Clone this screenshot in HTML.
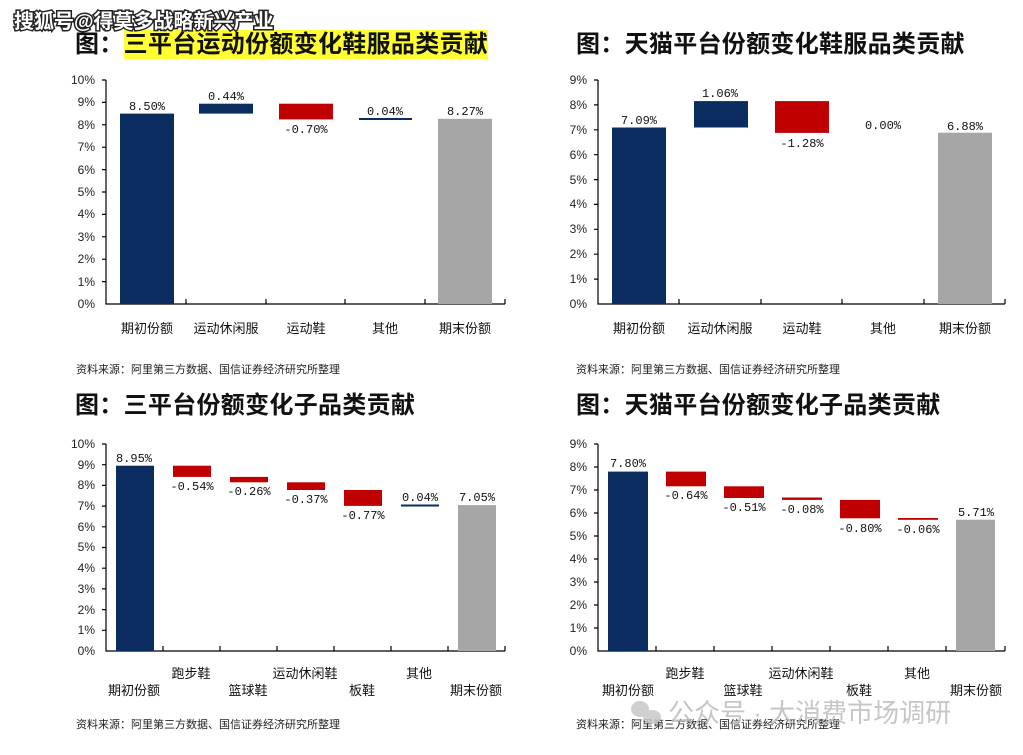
<!DOCTYPE html>
<html><head><meta charset="utf-8"><style>
html,body{margin:0;padding:0;background:#fff;}
svg{display:block;font-family:"Liberation Sans","Noto Sans CJK SC",sans-serif;}
.t{font-size:12px;fill:#222;text-anchor:end}
.c{font-size:13px;fill:#111;text-anchor:middle}
.v{font-size:12px;fill:#111;text-anchor:middle;font-family:"Liberation Mono","Noto Sans CJK SC",monospace}
.h{font-size:24px;font-weight:bold;fill:#111;letter-spacing:0.3px}
.s{font-size:11px;fill:#222}
</style></head><body>
<svg width="1023" height="755" viewBox="0 0 1023 755">
<rect x="124" y="30" width="364" height="29" fill="#ffff33"/>
<text class="h" x="75" y="52">图：三平台运动份额变化鞋服品类贡献</text>
<text class="h" x="576" y="52">图：天猫平台份额变化鞋服品类贡献</text>
<text x="14" y="28" font-size="20" fill="#fff" stroke="#222" stroke-width="3" paint-order="stroke" font-weight="bold">搜狐号@得莫多战略新兴产业</text>

<!-- chart 1 -->
<g stroke="#000" stroke-width="1.2" fill="none">
<path d="M106 80V304H505"/>
<path d="M102 80h4M102 102.4h4M102 124.8h4M102 147.2h4M102 169.6h4M102 192h4M102 214.4h4M102 236.8h4M102 259.2h4M102 281.6h4"/>
<path d="M186 304v-5M266 304v-5M345 304v-5M425 304v-5M505 304v-5"/>
</g>
<g class="t"><text x="95" y="84">10%</text><text x="95" y="106">9%</text><text x="95" y="129">8%</text><text x="95" y="151">7%</text><text x="95" y="174">6%</text><text x="95" y="196">5%</text><text x="95" y="218">4%</text><text x="95" y="241">3%</text><text x="95" y="263">2%</text><text x="95" y="286">1%</text><text x="95" y="308">0%</text></g>
<rect x="120" y="113.6" width="54" height="190.4" fill="#0b2c5f"/>
<rect x="199" y="103.7" width="54" height="9.9" fill="#0b2c5f"/>
<rect x="279" y="103.7" width="54" height="15.7" fill="#c00000"/>
<rect x="359" y="118" width="53" height="2" fill="#0b2c5f"/>
<rect x="438" y="118.8" width="54" height="185.2" fill="#a6a6a6"/>
<g class="v"><text x="147" y="110">8.50%</text><text x="226" y="100">0.44%</text><text x="306" y="133">-0.70%</text><text x="385" y="115">0.04%</text><text x="465" y="115">8.27%</text></g>
<g class="c"><text x="147" y="333">期初份额</text><text x="226" y="333">运动休闲服</text><text x="306" y="333">运动鞋</text><text x="385" y="333">其他</text><text x="465" y="333">期末份额</text></g>
<text class="s" x="76" y="373">资料来源：阿里第三方数据、国信证券经济研究所整理</text>

<!-- chart 2 -->
<g stroke="#000" stroke-width="1.2" fill="none">
<path d="M598 80V304H1005"/>
<path d="M594 80h4M594 104.9h4M594 129.8h4M594 154.7h4M594 179.6h4M594 204.4h4M594 229.3h4M594 254.2h4M594 279.1h4"/>
<path d="M679 304v-5M761 304v-5M842 304v-5M924 304v-5M1005 304v-5"/>
</g>
<g class="t"><text x="587" y="84">9%</text><text x="587" y="109">8%</text><text x="587" y="134">7%</text><text x="587" y="159">6%</text><text x="587" y="184">5%</text><text x="587" y="208">4%</text><text x="587" y="233">3%</text><text x="587" y="258">2%</text><text x="587" y="283">1%</text><text x="587" y="308">0%</text></g>
<rect x="612" y="127.5" width="54" height="176.5" fill="#0b2c5f"/>
<rect x="694" y="101.1" width="54" height="26.4" fill="#0b2c5f"/>
<rect x="775" y="101.1" width="54" height="31.8" fill="#c00000"/>
<rect x="938" y="132.7" width="54" height="171.3" fill="#a6a6a6"/>
<g class="v"><text x="639" y="124">7.09%</text><text x="720" y="97">1.06%</text><text x="802" y="147">-1.28%</text><text x="883" y="129">0.00%</text><text x="965" y="130">6.88%</text></g>
<g class="c"><text x="639" y="333">期初份额</text><text x="720" y="333">运动休闲服</text><text x="802" y="333">运动鞋</text><text x="883" y="333">其他</text><text x="965" y="333">期末份额</text></g>
<text class="s" x="576" y="373">资料来源：阿里第三方数据、国信证券经济研究所整理</text>

<text class="h" x="75" y="413">图：三平台份额变化子品类贡献</text>
<text class="h" x="576" y="413">图：天猫平台份额变化子品类贡献</text>

<!-- chart 3 -->
<g stroke="#000" stroke-width="1.2" fill="none">
<path d="M106 444V651H505"/>
<path d="M102 444h4M102 464.7h4M102 485.4h4M102 506.1h4M102 526.8h4M102 547.5h4M102 568.2h4M102 588.9h4M102 609.6h4M102 630.3h4"/>
<path d="M163 651v-5M220 651v-5M277 651v-5M334 651v-5M391 651v-5M448 651v-5M505 651v-5"/>
</g>
<g class="t"><text x="95" y="448">10%</text><text x="95" y="469">9%</text><text x="95" y="489">8%</text><text x="95" y="510">7%</text><text x="95" y="531">6%</text><text x="95" y="551">5%</text><text x="95" y="572">4%</text><text x="95" y="593">3%</text><text x="95" y="614">2%</text><text x="95" y="634">1%</text><text x="95" y="655">0%</text></g>
<rect x="116" y="465.7" width="38" height="185.3" fill="#0b2c5f"/>
<rect x="173" y="465.7" width="38" height="11.2" fill="#c00000"/>
<rect x="230" y="476.9" width="38" height="5.4" fill="#c00000"/>
<rect x="287" y="482.3" width="38" height="7.7" fill="#c00000"/>
<rect x="344" y="490" width="38" height="15.9" fill="#c00000"/>
<rect x="401" y="504.5" width="38" height="2" fill="#0b2c5f"/>
<rect x="458" y="505.1" width="38" height="145.9" fill="#a6a6a6"/>
<g class="v"><text x="134" y="462">8.95%</text><text x="192" y="490">-0.54%</text><text x="249" y="495">-0.26%</text><text x="306" y="503">-0.37%</text><text x="363" y="519">-0.77%</text><text x="420" y="501">0.04%</text><text x="477" y="501">7.05%</text></g>
<g class="c"><text x="191" y="678">跑步鞋</text><text x="305" y="678">运动休闲鞋</text><text x="419" y="678">其他</text><text x="134" y="695">期初份额</text><text x="248" y="695">篮球鞋</text><text x="362" y="695">板鞋</text><text x="476" y="695">期末份额</text></g>
<text class="s" x="76" y="728">资料来源：阿里第三方数据、国信证券经济研究所整理</text>

<!-- chart 4 -->
<g stroke="#000" stroke-width="1.2" fill="none">
<path d="M598 444V651H1005"/>
<path d="M594 444h4M594 467h4M594 490h4M594 513h4M594 536h4M594 559h4M594 582h4M594 605h4M594 628h4"/>
<path d="M656 651v-5M714 651v-5M772 651v-5M830 651v-5M888 651v-5M946 651v-5M1005 651v-5"/>
</g>
<g class="t"><text x="587" y="448">9%</text><text x="587" y="471">8%</text><text x="587" y="494">7%</text><text x="587" y="517">6%</text><text x="587" y="540">5%</text><text x="587" y="563">4%</text><text x="587" y="586">3%</text><text x="587" y="609">2%</text><text x="587" y="632">1%</text><text x="587" y="655">0%</text></g>
<rect x="608" y="471.6" width="40" height="179.4" fill="#0b2c5f"/>
<rect x="666" y="471.6" width="40" height="14.7" fill="#c00000"/>
<rect x="724" y="486.3" width="40" height="11.7" fill="#c00000"/>
<rect x="782" y="497.5" width="40" height="2.4" fill="#c00000"/>
<rect x="840" y="499.9" width="40" height="18.4" fill="#c00000"/>
<rect x="898" y="518" width="40" height="1.8" fill="#c00000"/>
<rect x="956" y="519.7" width="39" height="131.3" fill="#a6a6a6"/>
<g class="v"><text x="628" y="467">7.80%</text><text x="686" y="499">-0.64%</text><text x="744" y="511">-0.51%</text><text x="802" y="513">-0.08%</text><text x="860" y="532">-0.80%</text><text x="918" y="533">-0.06%</text><text x="976" y="516">5.71%</text></g>
<g class="c"><text x="685" y="678">跑步鞋</text><text x="801" y="678">运动休闲鞋</text><text x="917" y="678">其他</text><text x="628" y="695">期初份额</text><text x="743" y="695">篮球鞋</text><text x="859" y="695">板鞋</text><text x="976" y="695">期末份额</text></g>
<text class="s" x="576" y="728">资料来源：阿里第三方数据、国信证券经济研究所整理</text>

<g fill="#c8c8c8" opacity="0.85">
<ellipse cx="640" cy="709" rx="9" ry="8"/><ellipse cx="652" cy="717" rx="9" ry="7"/>
</g>
<text x="668" y="722" font-size="26" fill="#bdbdbd" opacity="0.85">公众号 · 大消费市场调研</text>
</svg>
</body></html>
